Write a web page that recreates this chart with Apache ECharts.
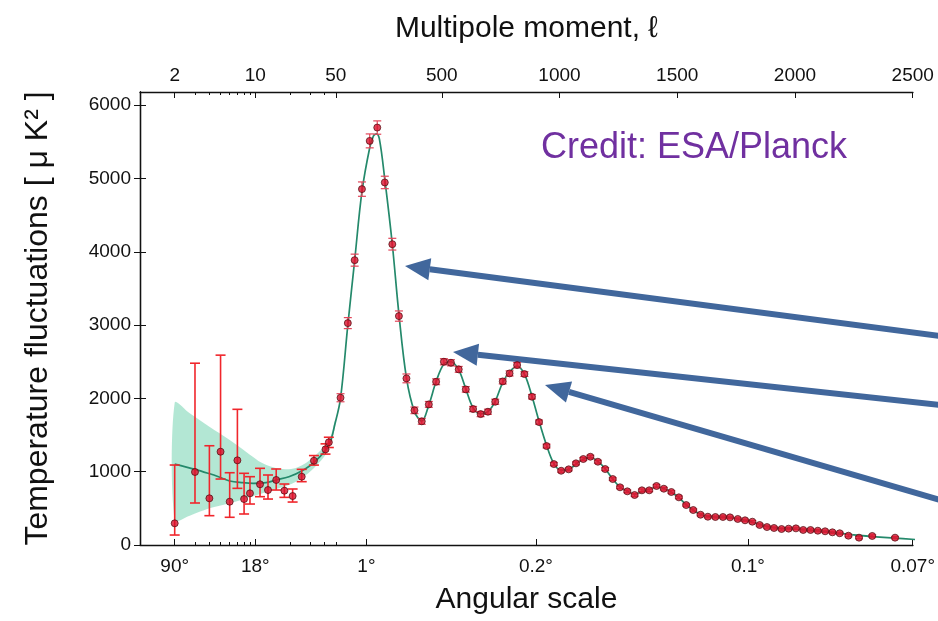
<!DOCTYPE html>
<html>
<head>
<meta charset="utf-8">
<script src="https://cdn.jsdelivr.net/npm/echarts@6/dist/echarts.min.js"></script>
<style>
  html, body { margin: 0; padding: 0; background: #fff; }
  #chart { width: 938px; height: 621px; }
</style>
</head>
<body>
<div id="chart"></div>
<script>
// low-l points (unbinned) with asymmetric error bars
const lowL = [2, 3, 4, 5, 6, 7, 8, 9, 11, 12.9, 15.2, 17.9, 21.1, 25.3, 32.3, 40.7, 43.5]
const lowD = [296, 996, 637, 1273, 591, 1155, 627, 705, 828, 750, 887, 741, 668, 932, 1150, 1305, 1401]
const lowLo = [136, 573, 400, 900, 378, 773, 423, 559, 659, 627, 750, 650, 586, 864, 1090, 1240, 1330]
const lowHi = [1091, 2480, 1354, 2590, 986, 1851, 978, 932, 1046, 955, 1037, 832, 764, 1032, 1220, 1380, 1470]

// binned high-l points
const binL = [70, 101, 130, 161, 194, 226, 258, 290, 318, 350, 384, 415, 445, 476, 509, 539, 572, 602, 633, 665,
  696, 727, 759, 788, 820, 851, 883, 913, 945, 976, 1007, 1039, 1070, 1101, 1131, 1163, 1194, 1226, 1257, 1288,
  1319, 1350, 1381, 1412, 1443, 1475, 1507, 1538, 1568, 1599, 1630, 1662, 1694, 1724, 1757, 1788, 1819, 1850, 1881, 1911,
  1943, 1973, 2004, 2035, 2066, 2097, 2128, 2159, 2190, 2227, 2272, 2328, 2425]
const binD = [2009, 3027, 3886, 4855, 5513, 5695, 4946, 4104, 3123, 2273, 1837, 1687, 1918, 2227, 2500, 2486, 2396, 2123, 1855, 1786,
  1818, 1954, 2232, 2341, 2454, 2332, 2023, 1677, 1350, 1104, 1013, 1032, 1114, 1173, 1204, 1136, 1036, 900, 787, 732,
  682, 746, 746, 805, 768, 723, 650, 545, 477, 413, 386, 382, 382, 377, 355, 337, 318, 273, 245, 232,
  218, 223, 227, 205, 205, 195, 187, 173, 160, 127, 100, 123, 100]
const binErr = [55, 75, 82, 98, 95, 91, 85, 80, 70, 60, 45, 40, 40, 40, 42, 42, 40, 38, 35, 35,
  35, 35, 35, 35, 35, 32, 30, 28, 25, 22, 20, 20, 20, 20, 20, 20, 20, 18, 18, 18,
  18, 18, 18, 18, 18, 18, 18, 15, 15, 15, 15, 15, 15, 15, 15, 15, 15, 15, 15, 15,
  15, 15, 15, 15, 15, 15, 15, 15, 15, 15, 15, 15, 15]

// best-fit model curve
const fitL = [2, 3, 3.9, 4.8, 6, 7.8, 9.6, 12.4, 15.1, 19.6, 25.5, 33.3, 43.5, 49.3,
  70, 101, 130, 161, 194, 210, 222, 235, 258, 290, 318, 350, 384, 415, 445, 476, 509, 539, 572, 602,
  633, 665, 696, 727, 759, 788, 820, 851, 883, 913, 945, 976, 1007, 1039, 1070, 1101, 1131, 1163, 1194, 1226,
  1257, 1288, 1319, 1350, 1381, 1412, 1443, 1475, 1507, 1538, 1568, 1599, 1630, 1662, 1694, 1724, 1757, 1788,
  1819, 1850, 1881, 1911, 1943, 1973, 2004, 2035, 2066, 2097, 2128, 2159, 2190, 2227, 2272, 2328, 2425, 2510]
const fitD = [1104, 1032, 978, 931, 873, 850, 841, 850, 886, 932, 1013, 1145, 1364, 1660,
  2000, 3000, 3880, 4820, 5420, 5580, 5610, 5540, 4990, 4100, 3150, 2280, 1820, 1690, 1910, 2230, 2470, 2500, 2390, 2130,
  1870, 1790, 1820, 1960, 2220, 2360, 2440, 2330, 2030, 1690, 1360, 1110, 1020, 1030, 1105, 1170, 1195, 1140, 1040, 900,
  790, 735, 695, 725, 760, 790, 770, 720, 645, 550, 475, 420, 390, 382, 380, 375, 355, 335,
  312, 282, 255, 236, 225, 222, 218, 208, 200, 192, 182, 172, 160, 145, 130, 115, 95, 75]

// cosmic variance band at low l
const bandL = [2, 2.7, 4, 6, 8.3, 11.6, 16, 22.5, 31, 43.5, 49.3]
const bandLo = [340, 400, 500, 568, 636, 705, 773, 864, 1023, 1300, 1620]
const bandHi = [1941, 1796, 1613, 1432, 1273, 1114, 1040, 1050, 1180, 1430, 1700]

// axis ticks
const topMajorL = [2, 10, 50, 500, 1000, 1500, 2000, 2500]
const topMajorText = ["2", "10", "50", "500", "1000", "1500", "2000", "2500"]
const minorL = [3, 4, 5, 6, 7, 8, 9, 20, 30, 40]
const botMajorL = [2, 10, 180, 900, 1800, 2500]
const botMajorText = ["90°", "18°", "1°", "0.2°", "0.1°", "0.07°"]
const yTicks = [0, 1000, 2000, 3000, 4000, 5000, 6000]

// axis scale: log below l=50, linear above (same as the Planck plot)
const K_LOG = 116
const L_BREAK = 50
const K_LIN = 0.237
const u = (l) => (l <= L_BREAK ? K_LOG * Math.log10(l) : K_LOG * Math.log10(L_BREAK) + K_LIN * (l - L_BREAK))
const X_MAX = 778

const FONT = "Liberation Sans"
const labelFor = (ls, texts) => (v) => {
  const i = ls.findIndex((l) => Math.abs(u(l) - v) < 1e-6)
  return i < 0 ? "" : texts[i]
}

const chart = echarts.init(document.getElementById("chart"))

const errData = [
  ...lowL.map((l, i) => [u(l), lowLo[i], lowHi[i], 5, 0]),
  ...binL.map((l, i) => [u(l), binD[i] - binErr[i], binD[i] + binErr[i], 4, 1]),
]

const baseAxis = {
  type: "value",
  min: 0,
  max: X_MAX,
  splitLine: { show: false },
}

function arrow(tip, tail) {
  const dx = tail[0] - tip[0]
  const dy = tail[1] - tip[1]
  const len = Math.sqrt(dx * dx + dy * dy)
  const ux = dx / len
  const uy = dy / len
  const hl = 25
  const hw = 11
  const bx = tip[0] + ux * hl
  const by = tip[1] + uy * hl
  return {
    type: "group",
    z: 100,
    children: [
      {
        type: "line",
        shape: { x1: bx, y1: by, x2: tail[0], y2: tail[1] },
        style: { stroke: "#41679c", lineWidth: 6 },
      },
      {
        type: "polygon",
        shape: {
          points: [
            tip,
            [bx - uy * hw, by + ux * hw],
            [bx + uy * hw, by - ux * hw],
          ],
        },
        style: { fill: "#41679c" },
      },
    ],
  }
}

const option = {
  animation: false,
  backgroundColor: "#fff",
  grid: { left: 140, right: 20, top: 92, bottom: 76 },
  xAxis: [
    {
      ...baseAxis,
      position: "bottom",
      name: "Angular scale",
      nameLocation: "middle",
      nameGap: 40,
      nameTextStyle: { fontFamily: FONT, fontSize: 30, color: "#111" },
      axisLine: { lineStyle: { color: "#111", width: 1.3 } },
      axisTick: { show: true, inside: true, length: 6, customValues: botMajorL.map(u), lineStyle: { color: "#111" } },
      axisLabel: {
        customValues: botMajorL.map(u),
        formatter: labelFor(botMajorL, botMajorText),
        fontFamily: FONT,
        fontSize: 19,
        color: "#111",
        margin: 12,
      },
    },
    {
      ...baseAxis,
      position: "bottom",
      axisLine: { show: false },
      axisTick: { show: true, inside: true, length: 3, customValues: [...minorL, 50].map(u), lineStyle: { color: "#111" } },
      axisLabel: { show: false },
    },
    {
      ...baseAxis,
      position: "top",
      name: "Multipole moment, ℓ",
      nameLocation: "middle",
      nameGap: 48,
      nameTextStyle: { fontFamily: FONT, fontSize: 30, color: "#111" },
      axisLine: { lineStyle: { color: "#111", width: 1.3 } },
      axisTick: { show: true, inside: true, length: 6, customValues: topMajorL.map(u), lineStyle: { color: "#111" } },
      axisLabel: {
        customValues: topMajorL.map(u),
        formatter: labelFor(topMajorL, topMajorText),
        fontFamily: FONT,
        fontSize: 19,
        color: "#111",
        margin: 7,
      },
    },
    {
      ...baseAxis,
      position: "top",
      axisLine: { show: false },
      axisTick: { show: true, inside: true, length: 3, customValues: minorL.map(u), lineStyle: { color: "#111" } },
      axisLabel: { show: false },
    },
  ],
  yAxis: [
    {
      type: "value",
      position: "left",
      min: 0,
      max: 6180,
      name: "Temperature fluctuations [ μ K² ]",
      nameLocation: "middle",
      nameGap: 86,
      nameRotate: 90,
      nameTextStyle: { fontFamily: FONT, fontSize: 32, color: "#111" },
      splitLine: { show: false },
      axisLine: { show: true, lineStyle: { color: "#111", width: 1.3 } },
      axisTick: { show: true, inside: true, length: 6, customValues: yTicks, lineStyle: { color: "#111" } },
      axisLabel: {
        customValues: yTicks,
        formatter: (v) => String(v),
        fontFamily: FONT,
        fontSize: 19,
        color: "#111",
        margin: 9,
      },
    },
    {
      type: "value",
      position: "right",
      min: 0,
      max: 6180,
      splitLine: { show: false },
      axisLine: { show: true, lineStyle: { color: "#111", width: 1.3 } },
      axisTick: { show: true, inside: true, length: 6, customValues: yTicks, lineStyle: { color: "#111" } },
      axisLabel: { show: false },
    },
  ],
  series: [
    {
      name: "band",
      type: "custom",
      z: 1,
      silent: true,
      data: [0],
      renderItem: (params, api) => {
        const upper = bandL.map((l, i) => api.coord([u(l), bandHi[i]]))
        const lower = bandL.map((l, i) => api.coord([u(l), bandLo[i]])).reverse()
        return {
          type: "polygon",
          shape: { points: upper.concat(lower), smooth: 0.3 },
          style: { fill: "#a6e3cd", opacity: 0.85 },
        }
      },
    },
    {
      name: "model",
      type: "line",
      z: 2,
      smooth: 0.35,
      showSymbol: false,
      silent: true,
      data: fitL.map((l, i) => [u(l), fitD[i]]),
      lineStyle: { color: "#24896b", width: 1.7 },
    },
    {
      name: "errors",
      type: "custom",
      z: 3,
      silent: true,
      data: errData,
      renderItem: (params, api) => {
        const x = api.value(0)
        const p1 = api.coord([x, api.value(1)])
        const p2 = api.coord([x, api.value(2)])
        const w = api.value(3)
        const color = api.value(4) === 0 ? "#f0262c" : "#e2465a"
        const lw = api.value(4) === 0 ? 1.6 : 1.2
        const style = { stroke: color, lineWidth: lw }
        return {
          type: "group",
          children: [
            { type: "line", shape: { x1: p1[0], y1: p1[1], x2: p2[0], y2: p2[1] }, style },
            { type: "line", shape: { x1: p1[0] - w, y1: p1[1], x2: p1[0] + w, y2: p1[1] }, style },
            { type: "line", shape: { x1: p2[0] - w, y1: p2[1], x2: p2[0] + w, y2: p2[1] }, style },
          ],
        }
      },
    },
    {
      name: "data",
      type: "scatter",
      z: 4,
      symbol: "circle",
      symbolSize: 7,
      data: [...lowL.map((l, i) => [u(l), lowD[i]]), ...binL.map((l, i) => [u(l), binD[i]])],
      itemStyle: { color: "#d9102c", borderColor: "#4a0c10", borderWidth: 0.9 },
    },
  ],
  graphic: [
    {
      type: "text",
      left: 541,
      top: 130,
      z: 100,
      style: { text: "Credit: ESA/Planck", fill: "#7030a0", font: "36px 'Liberation Sans'" },
    },
    arrow([405, 266], [940, 336]),
    arrow([453, 352], [940, 405]),
    arrow([545, 385], [940, 500]),
  ],
}

chart.setOption(option)
</script>
</body>
</html>
